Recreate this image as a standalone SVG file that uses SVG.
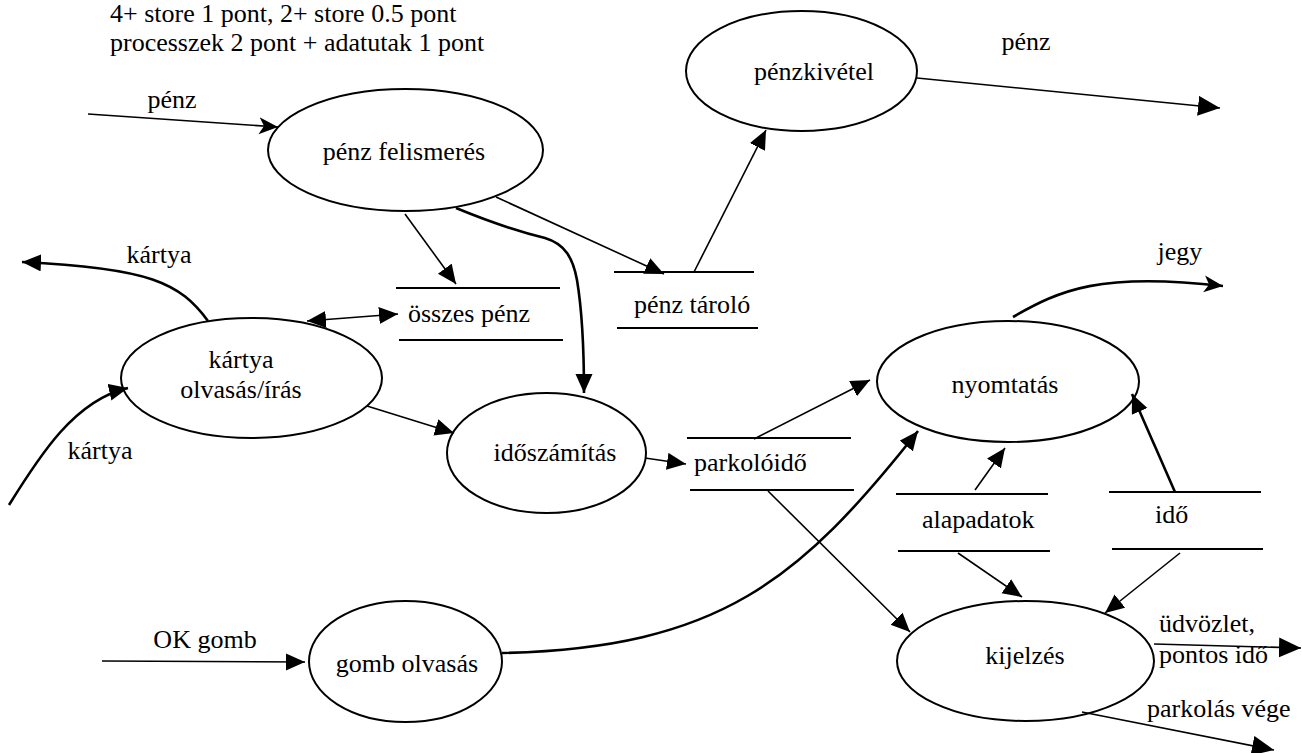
<svg xmlns="http://www.w3.org/2000/svg" width="1302" height="753" viewBox="0 0 1302 753">
<defs>
<style>
text{font-family:"Liberation Serif","Times New Roman",serif;font-size:26px;fill:#000}
.c{text-anchor:middle}
.n ellipse{fill:#fff;stroke:#000;stroke-width:2}
.s line{stroke:#000;stroke-width:2}
.e path{fill:none;stroke:#000;stroke-width:1.6;marker-end:url(#ah)}
.e path.t{stroke-width:2.6}
.e path.st{marker-end:url(#st)}
.e path.big{marker-end:url(#bg)}
.e path.both{marker-start:url(#ah)}
</style>
<marker id="ah" markerUnits="userSpaceOnUse" markerWidth="22" markerHeight="18" refX="19" refY="8.5" orient="auto-start-reverse"><path d="M0,0L19,8.5L0,17Z" fill="#000"/></marker>
<marker id="bg" markerUnits="userSpaceOnUse" markerWidth="24" markerHeight="22" refX="22" refY="10" orient="auto"><path d="M0,0L22,10L0,20Z" fill="#000"/></marker>
<marker id="st" markerUnits="userSpaceOnUse" markerWidth="22" markerHeight="18" refX="19" refY="8.5" orient="auto"><path d="M0,0L19,8.5L0,17L5,8.5Z" fill="#000"/></marker>
</defs>
<rect width="1302" height="753" fill="#fff"/>
<g id="header">
<text x="110" y="22">4+ store 1 pont, 2+ store 0.5 pont</text>
<text x="110" y="51">processzek 2 pont + adatutak 1 pont</text>
</g>
<g id="n-penzfelismeres" class="n"><ellipse cx="405.5" cy="150" rx="137.5" ry="61"/><text class="c" x="404" y="160">pénz felismerés</text></g>
<g id="n-penzkivetel" class="n"><ellipse cx="801.5" cy="71" rx="115.5" ry="60"/><text class="c" x="814" y="80">pénzkivétel</text></g>
<g id="n-kartya" class="n"><ellipse cx="251.5" cy="378" rx="130.5" ry="60"/><text class="c" x="241" y="368">kártya</text><text class="c" x="241" y="398">olvasás/írás</text></g>
<g id="n-idoszamitas" class="n"><ellipse cx="546.5" cy="453" rx="99.5" ry="60"/><text class="c" x="555" y="461">időszámítás</text></g>
<g id="n-nyomtatas" class="n"><ellipse cx="1008" cy="381.5" rx="131" ry="60.5"/><text class="c" x="1005" y="393">nyomtatás</text></g>
<g id="n-kijelzes" class="n"><ellipse cx="1025.5" cy="661" rx="128.5" ry="60"/><text class="c" x="1025" y="664">kijelzés</text></g>
<g id="n-gomb" class="n"><ellipse cx="405.5" cy="661.5" rx="96.5" ry="60.5"/><text class="c" x="407" y="672">gomb olvasás</text></g>
<g id="s-osszes" class="s"><line x1="396" y1="288" x2="560" y2="288"/><line x1="399" y1="340" x2="563" y2="340"/><text x="408" y="322">összes pénz</text></g>
<g id="s-penztarolo" class="s"><line x1="614" y1="272" x2="754" y2="272"/><line x1="617" y1="328" x2="758" y2="328"/><text x="634" y="313">pénz tároló</text></g>
<g id="s-parkoloido" class="s"><line x1="687" y1="438" x2="851" y2="438"/><line x1="690" y1="490" x2="854" y2="490"/><text x="694" y="471">parkolóidő</text></g>
<g id="s-alapadatok" class="s"><line x1="896" y1="494" x2="1048" y2="494"/><line x1="898" y1="551" x2="1050" y2="551"/><text x="922" y="528">alapadatok</text></g>
<g id="s-ido" class="s"><line x1="1109" y1="492" x2="1261" y2="492"/><line x1="1112" y1="549" x2="1263" y2="549"/><text x="1155" y="523">idő</text></g>
<g id="connectors" class="e">
<path class="st" d="M88,114L278,127"/>
<text class="c" x="172" y="108">pénz</text>
<path class="big" d="M917,78L1220,108"/>
<text class="c" x="1026" y="50">pénz</text>
<path d="M694,272L766,130"/>
<path d="M496,197L664,274"/>
<path d="M405,214L456,284"/>
<path class="t" d="M456,208C490,222 520,232 545,238C565,244 573,258 577,280C582,310 584,350 584,393"/>
<path class="both" d="M307,321L398,314"/>
<path class="t" d="M208,321C180,283 150,268 22,262"/>
<text class="c" x="159" y="263">kártya</text>
<path class="t" d="M9,505C40,455 75,400 128,388"/>
<text class="c" x="100" y="459">kártya</text>
<path d="M367,406L454,433"/>
<path d="M645,458L686,464"/>
<path d="M754,439L870,380"/>
<path d="M768,491L910,632"/>
<path class="t" d="M502,653C720,648 800,580 918,431"/>
<path d="M102,661L305,662"/>
<text class="c" x="205" y="648">OK gomb</text>
<path class="t st" d="M1013,317C1060,290 1100,272 1223,286"/>
<text class="c" x="1180" y="260">jegy</text>
<path d="M975,490L1005,448"/>
<path class="t" d="M1175,492L1132,394"/>
<path d="M958,553L1022,597"/>
<path d="M1180,553L1105,613"/>
<path class="big" d="M1154,644L1301,648"/>
<text x="1159" y="632">üdvözlet,</text>
<text x="1159" y="663">pontos idő</text>
<path class="big" d="M1082,712L1274,750"/>
<text x="1147" y="717">parkolás vége</text>
</g>
</svg>
